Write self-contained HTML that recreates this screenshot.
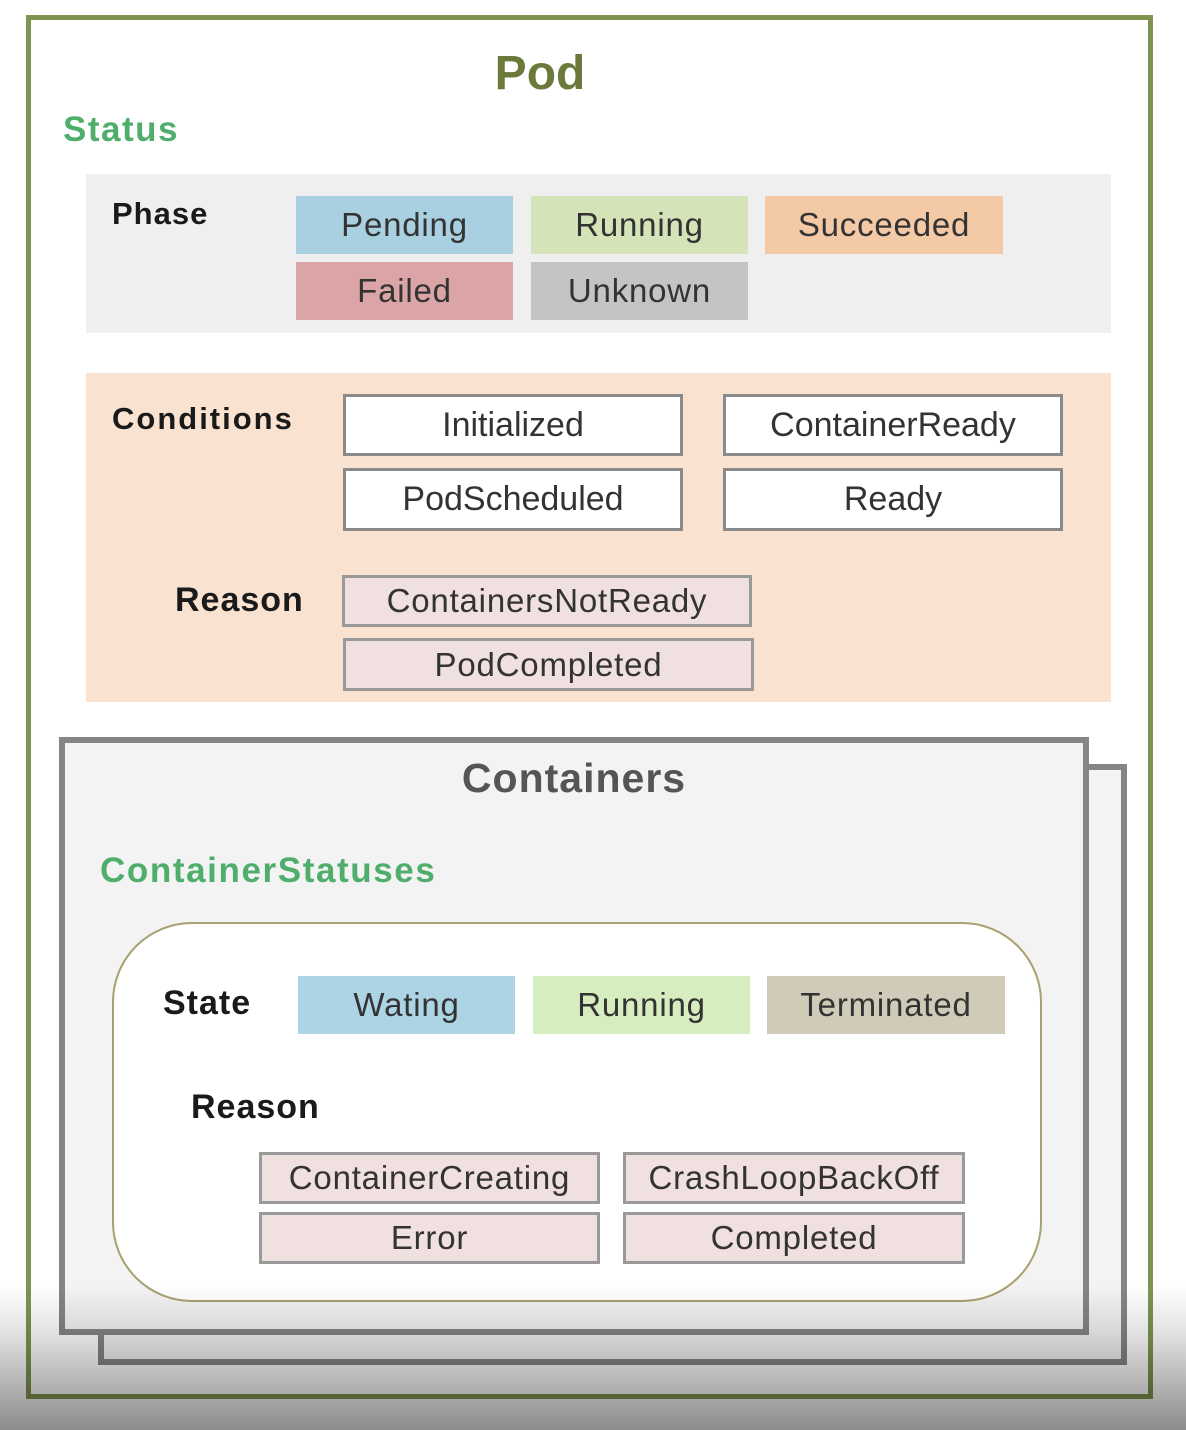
<!DOCTYPE html>
<html><head><meta charset="utf-8"><style>
body{margin:0;width:1186px;height:1430px;position:relative;background:#fff;overflow:hidden;font-family:"Liberation Sans",sans-serif}
div{position:absolute;box-sizing:border-box}
.b{display:flex;align-items:center;justify-content:center;font-size:33px;color:#333;letter-spacing:0.8px}
.l{font-weight:bold;color:#1a1a1a;font-size:31px;letter-spacing:1px}
</style></head><body>
<div style="left:26px;top:15px;width:1127px;height:1384px;border:5px solid #7f9450"></div>
<div style="left:0;top:46px;width:1080px;text-align:center;font-weight:bold;font-size:48px;color:#6b7a3a;">Pod</div>
<div style="left:63px;top:110px;font-weight:bold;font-size:35px;color:#4fae6c;letter-spacing:1.5px">Status</div>

<div style="left:86px;top:174px;width:1025px;height:159px;background:#efefef"></div>
<div class="l" style="left:112px;top:196px">Phase</div>
<div class="b" style="left:296px;top:196px;width:217px;height:58px;background:#a9d0e0">Pending</div>
<div class="b" style="left:531px;top:196px;width:217px;height:58px;background:#d5e3b8">Running</div>
<div class="b" style="left:765px;top:196px;width:238px;height:58px;background:#f3c9a6">Succeeded</div>
<div class="b" style="left:296px;top:262px;width:217px;height:58px;background:#dba5a7">Failed</div>
<div class="b" style="left:531px;top:262px;width:217px;height:58px;background:#c4c4c4">Unknown</div>

<div style="left:86px;top:373px;width:1025px;height:329px;background:#f9e3d0"></div>
<div class="l" style="left:112px;top:401px;letter-spacing:2px">Conditions</div>
<div class="b" style="left:343px;top:394px;width:340px;height:62px;background:#fff;border:3px solid #8a8a8a;font-size:34px;letter-spacing:0">Initialized</div>
<div class="b" style="left:723px;top:394px;width:340px;height:62px;background:#fff;border:3px solid #8a8a8a;font-size:34px;letter-spacing:0">ContainerReady</div>
<div class="b" style="left:343px;top:468px;width:340px;height:63px;background:#fff;border:3px solid #8a8a8a;font-size:34px;letter-spacing:0">PodScheduled</div>
<div class="b" style="left:723px;top:468px;width:340px;height:63px;background:#fff;border:3px solid #8a8a8a;font-size:34px;letter-spacing:0">Ready</div>
<div class="l" style="left:175px;top:581px;font-size:34px">Reason</div>
<div class="b" style="left:342px;top:575px;width:410px;height:52px;background:#f1e0e0;border:3px solid #999">ContainersNotReady</div>
<div class="b" style="left:343px;top:638px;width:411px;height:53px;background:#f1e0e0;border:3px solid #999">PodCompleted</div>

<div style="left:98px;top:764px;width:1029px;height:601px;border:6px solid #858585;background:#f3f3f3"></div>
<div style="left:59px;top:737px;width:1030px;height:598px;border:6px solid #858585;background:#f3f3f3"></div>
<div style="left:59px;top:755px;width:1030px;text-align:center;font-weight:bold;font-size:41px;color:#555;letter-spacing:1px">Containers</div>
<div style="left:100px;top:851px;font-weight:bold;font-size:35px;color:#4fae6c;letter-spacing:1.6px">ContainerStatuses</div>
<div style="left:112px;top:922px;width:930px;height:380px;border:2px solid #a8a070;border-radius:80px;background:#fff"></div>
<div class="l" style="left:163px;top:984px;font-size:34px">State</div>
<div class="b" style="left:298px;top:976px;width:217px;height:58px;background:#acd4e4">Wating</div>
<div class="b" style="left:533px;top:976px;width:217px;height:58px;background:#d6edc0">Running</div>
<div class="b" style="left:767px;top:976px;width:238px;height:58px;background:#d0cbb8">Terminated</div>
<div class="l" style="left:191px;top:1088px;font-size:34px">Reason</div>
<div class="b" style="left:259px;top:1152px;width:341px;height:52px;background:#f1e0e0;border:3px solid #999">ContainerCreating</div>
<div class="b" style="left:623px;top:1152px;width:342px;height:52px;background:#f1e0e0;border:3px solid #999">CrashLoopBackOff</div>
<div class="b" style="left:259px;top:1212px;width:341px;height:52px;background:#f1e0e0;border:3px solid #999">Error</div>
<div class="b" style="left:623px;top:1212px;width:342px;height:52px;background:#f1e0e0;border:3px solid #999">Completed</div>

<div style="left:0;top:1285px;width:1186px;height:145px;background:linear-gradient(rgba(0,0,0,0),rgba(0,0,0,0.1) 30%,rgba(0,0,0,0.45))"></div>
</body></html>
